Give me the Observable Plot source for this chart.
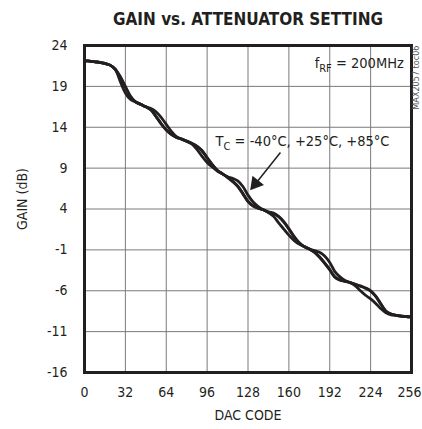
<!DOCTYPE html>
<html>
<head>
<meta charset="utf-8">
<script src="https://cdn.jsdelivr.net/npm/d3@7"></script>
<script src="https://cdn.jsdelivr.net/npm/@observablehq/plot@0.6"></script>
<style>
  html, body { margin: 0; padding: 0; background: #fff; }
  #chart svg { display: block; }
</style>
</head>
<body>
<div id="chart"></div>
<script>
const titleText = "GAIN vs. ATTENUATOR SETTING";
const xLabel = "DAC CODE";
const yLabel = "GAIN (dB)";
const xTicks = [0, 32, 64, 96, 128, 160, 192, 224, 256];
const yTicks = [-16, -11, -6, -1, 4, 9, 14, 19, 24];
const seriesNames = ["-40°C", "+25°C", "+85°C"];

const codes = [0,4,8,12,16,20,24,28,32,36,40,44,48,52,56,60,64,68,72,76,80,84,88,92,96,100,104,108,112,116,120,124,128,132,136,140,144,148,152,156,160,164,168,172,176,180,184,188,192,196,200,204,208,212,216,220,224,228,232,236,240,244,248,252,255];

const gainM40 = [22.1,22.1,22.0,21.95,21.8,21.6,21.1,20.2,19.0,17.8,17.1,16.8,16.5,16.3,15.9,15.2,14.35,13.5,12.85,12.55,12.3,12.05,11.7,11.15,10.3,9.45,8.75,8.3,7.95,7.75,7.45,6.75,5.7,4.85,4.3,3.9,3.65,3.5,3.1,2.45,1.6,0.65,-0.1,-0.6,-0.9,-1.1,-1.3,-1.75,-2.55,-3.65,-4.3,-4.75,-5.0,-5.2,-5.4,-5.65,-6.0,-6.65,-7.6,-8.5,-8.85,-9.0,-9.1,-9.15,-9.2];

const gain25 = [22.1,22.1,22.0,21.95,21.8,21.6,21.1,20.1,18.9,17.75,17.1,16.8,16.5,16.15,15.35,14.45,13.7,13.15,12.75,12.55,12.3,12.0,11.65,11.1,10.25,9.4,8.7,8.3,7.9,7.4,6.8,5.9,4.95,4.4,4.1,3.9,3.6,3.45,3.05,2.4,1.55,0.6,-0.15,-0.6,-0.9,-1.25,-1.85,-2.6,-3.4,-4.3,-4.65,-4.85,-5.0,-5.25,-5.45,-5.7,-6.05,-6.7,-7.65,-8.5,-8.85,-9.0,-9.1,-9.15,-9.2];

const gain85 = [22.1,22.1,22.0,21.95,21.8,21.6,21.1,19.6,18.2,17.4,17.1,16.8,16.5,16.1,15.3,14.4,13.65,13.1,12.75,12.55,12.3,11.95,11.3,10.45,9.7,9.15,8.65,8.3,7.85,7.35,6.75,5.85,4.9,4.35,4.1,3.9,3.55,3.1,2.3,1.55,0.8,0.15,-0.3,-0.6,-0.9,-1.3,-1.9,-2.65,-3.45,-4.35,-4.7,-4.85,-5.0,-5.4,-6.0,-6.55,-7.0,-7.55,-8.2,-8.7,-8.95,-9.0,-9.1,-9.15,-9.2];

// annotation anchors (data coordinates)
const freqNote = {x: 250, y: 21.8, text: "fRF = 200MHz"};
const tempNote = {x: 102.6, y: 12.3, text: "TC = -40°C, +25°C, +85°C"};
const arrowFrom = {x: 153.4, y: 10.9};
const arrowTo = {x: 133.9, y: 7.1};
const docId = "MAX2057 toc06";

const series = [gainM40, gain25, gain85];
const rows = [];
series.forEach((vals, i) => {
  codes.forEach((c, j) => rows.push({code: c, gain: vals[j], temp: seriesNames[i]}));
});

const FONT = "'Liberation Sans Narrow', 'DejaVu Sans Condensed', 'Arial Narrow', sans-serif";
const INK = "#231f20";

const plot = Plot.plot({
  width: 422,
  height: 429,
  marginLeft: 84,
  marginRight: 11,
  marginTop: 45,
  marginBottom: 57,
  style: {fontFamily: FONT, fontSize: "14px", color: INK, background: "#fff"},
  x: {domain: [0, 256]},
  y: {domain: [-16, 24]},
  marks: [
    Plot.gridX(xTicks, {stroke: "#7a7a7a", strokeOpacity: 1, strokeWidth: 1}),
    Plot.gridY(yTicks, {stroke: "#7a7a7a", strokeOpacity: 1, strokeWidth: 1}),
    Plot.axisX({ticks: xTicks, tickSize: 0, tickPadding: 15, label: null, fontSize: 14, tickFormat: d => `${d}`}),
    Plot.axisY({ticks: yTicks, tickSize: 0, tickPadding: 17, label: null, fontSize: 14, tickFormat: d => `${d}`}),
    Plot.line(rows, {x: "code", y: "gain", z: "temp", stroke: INK, strokeWidth: 2.8, curve: "catmull-rom"}),
    Plot.frame({stroke: INK, strokeWidth: 3}),
    Plot.text([freqNote], {x: "x", y: "y", text: "text", textAnchor: "end", fontSize: 14.5, fill: INK}),
    Plot.text([tempNote], {x: "x", y: "y", text: "text", textAnchor: "start", fontSize: 14.5, fill: INK}),
    Plot.link([{x1: arrowFrom.x, y1: arrowFrom.y, x2: arrowTo.x, y2: arrowTo.y}], {x1: "x1", y1: "y1", x2: "x2", y2: "y2", stroke: INK, strokeWidth: 1.5}),
    Plot.dot([arrowTo], {x: "x", y: "y", symbol: "triangle", r: 5.5, fill: INK, stroke: "none", rotate: 219}),
    Plot.text([titleText], {frameAnchor: "top", dy: -25.5, lineAnchor: "middle", textAnchor: "middle", fontSize: 17, fontWeight: "bold", fill: INK}),
    Plot.text([xLabel], {frameAnchor: "bottom", dy: 43, lineAnchor: "middle", textAnchor: "middle", fontSize: 14, fill: INK}),
    Plot.text([yLabel], {frameAnchor: "left", dx: -62, dy: -10, rotate: -90, lineAnchor: "middle", textAnchor: "middle", fontSize: 14, fill: INK}),
    Plot.text([docId], {frameAnchor: "top-right", dx: 5, dy: 0, rotate: -90, lineAnchor: "middle", textAnchor: "end", fontSize: 9, fill: "#555"})
  ]
});

// subscripts and edge label nudge
plot.querySelectorAll("text").forEach(t => {
  if (t.textContent === freqNote.text) {
    t.innerHTML = 'f<tspan dy="4" font-size="11">RF</tspan><tspan dy="-4"> = 200MHz</tspan>';
  } else if (t.textContent === tempNote.text) {
    t.innerHTML = 'T<tspan dy="4" font-size="11">C</tspan><tspan dy="-4"> = -40°C, +25°C, +85°C</tspan>';
  } else if (t.textContent === "256") {
    t.setAttribute("dx", "-2");
  }
});

document.getElementById("chart").appendChild(plot);
</script>
</body>
</html>
